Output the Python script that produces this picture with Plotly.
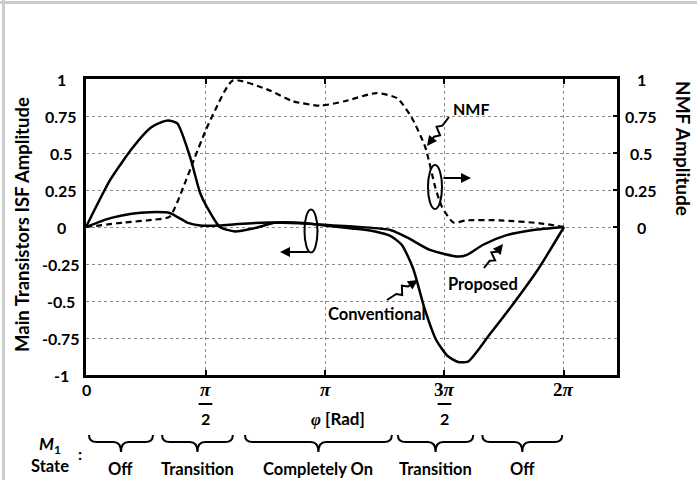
import math
import plotly.graph_objects as go

PI = math.pi

# ---------------- data ----------------
x_conv = [0, 0.32, 0.62, 0.85, 1.0, 1.08, 1.2, 1.37, 1.5, 1.59, 1.76, 1.96, 2.2, 2.5,
          2.9, 3.14, 3.5, 3.8, 4.0, 4.15, 4.3, 4.45, 4.6, 4.75, 4.88, 5.02, 5.3, 5.6, 5.95, 2 * PI]
y_conv = [0, 0.32, 0.54, 0.67, 0.71, 0.72, 0.7, 0.47, 0.23, 0.135, 0.0, -0.03, -0.01, 0.03,
          0.025, 0.01, -0.01, -0.03, -0.06, -0.12, -0.28, -0.55, -0.76, -0.87, -0.91, -0.91,
          -0.73, -0.53, -0.28, 0]

x_prop = [0, 0.32, 0.6, 0.84, 1.1, 1.33, 1.5, 1.75, 2.0, 2.4, 2.8, 3.14, 3.6, 4.0, 4.22,
          4.52, 4.89, 5.0, 5.22, 5.53, 5.88, 2 * PI]
y_prop = [0, 0.06, 0.09, 0.1, 0.095, 0.03, 0.01, 0.01, 0.02, 0.03, 0.025, 0.015, 0.0,
          -0.02, -0.07, -0.155, -0.2, -0.19, -0.12, -0.055, -0.02, 0]

x_nmf = [0, 0.5, 0.9, 1.1, 1.28, 1.43, 1.571, 1.67, 1.93, 2.38, 2.72, 3.08, 3.4, 3.82,
         4.09, 4.28, 4.46, 4.59, 4.68, 4.83, 5.0, 5.44, 5.97, 2 * PI]
y_nmf = [0, 0.03, 0.05, 0.07, 0.27, 0.47, 0.65, 0.76, 0.99, 0.93, 0.85, 0.82, 0.85, 0.905,
         0.87, 0.74, 0.54, 0.27, 0.135, 0.03, 0.045, 0.045, 0.025, 0]

x_tick_vals = [0, PI / 2, PI, 3 * PI / 2, 2 * PI]
x_tick_top = ["0", "<i>π</i>", "<i>π</i>", "3<i>π</i>", "2<i>π</i>"]
x_tick_den = ["", "2", "", "2", ""]
y_tick_vals = [-1, -0.75, -0.5, -0.25, 0, 0.25, 0.5, 0.75, 1]
y_tick_text = ["-1", "-0.75", "-0.5", "-0.25", "0", "0.25", "0.5", "0.75", "1"]
y2_tick_vals = [0, 0.25, 0.5, 0.75, 1]
y2_tick_text = ["0", "0.25", "0.5", "0.75", "1"]

states = ["Off", "Transition", "Completely On", "Transition", "Off"]
state_start = [0.04, 1.0, 2.09, 4.1, 5.21]
state_end = [0.88, 1.93, 4.02, 5.09, 6.26]

# ---------------- layout geometry ----------------
W, H = 697, 480
L, R, T, B = 86, 80, 79, 105
XMAX = 6.98
PW, PH = W - L - R, H - T - B


def px(p):
    return (p - L) / PW


def py(p):
    return (H - B - p) / PH


FONT = "Lato"
SERIF = "Liberation Serif"

fig = go.Figure()
fig.add_trace(go.Scatter(x=x_conv, y=y_conv, mode="lines", line=dict(color="black", width=2.5, shape="spline", smoothing=0.6), name="Conventional", showlegend=False))
fig.add_trace(go.Scatter(x=x_prop, y=y_prop, mode="lines", line=dict(color="black", width=2.5, shape="spline", smoothing=0.6), name="Proposed", showlegend=False))
fig.add_trace(go.Scatter(x=x_nmf, y=y_nmf, mode="lines", yaxis="y2", line=dict(color="black", width=2.2, dash="6px,4px", shape="spline", smoothing=0.6), name="NMF", showlegend=False))

grid = dict(showgrid=True, gridcolor="#8a8a8a", griddash="dot", gridwidth=1)

fig.update_layout(
    width=W, height=H,
    margin=dict(l=L, r=R, t=T, b=B),
    paper_bgcolor="white", plot_bgcolor="white",
    font=dict(family=FONT, size=16, color="black", weight="bold"),
    xaxis=dict(range=[0, XMAX], tickvals=x_tick_vals, showticklabels=False, ticks="inside",
               ticklen=5, tickwidth=2, tickcolor="black",
               showline=True, linecolor="black", linewidth=2.5, mirror="ticks", zeroline=False, **grid),
    yaxis=dict(range=[-1, 1], tickvals=y_tick_vals, showticklabels=False, ticks="",
               showline=True, linecolor="black", linewidth=2.5, mirror=True, zeroline=False, **grid),
    yaxis2=dict(range=[-1, 1], overlaying="y", side="right", tickvals=y2_tick_vals,
                showticklabels=False, ticks="inside", ticklen=4, tickwidth=2, tickcolor="black",
                showgrid=False, zeroline=False),
    showlegend=False,
)

ann = []
shapes = []


def text(t, x, y, size=16, xref="paper", yref="paper", angle=0, family=FONT):
    ann.append(dict(text=t, xref=xref, yref=yref, x=x, y=y, showarrow=False, textangle=angle,
                    xanchor="center", yanchor="middle",
                    font=dict(family=family, size=size, color="black", weight="bold")))


# outer gray frame of the image
shapes.append(dict(type="line", xref="paper", yref="paper", x0=px(0), x1=px(W), y0=py(2.5), y1=py(2.5), layer="above", line=dict(color="#cccccc", width=3)))
shapes.append(dict(type="line", xref="paper", yref="paper", x0=px(3.5), x1=px(3.5), y0=py(0), y1=py(H), layer="above", line=dict(color="#cccccc", width=3)))

# axis titles
text("Main Transistors ISF Amplitude", px(22), py(225), size=18.5, angle=-90)
text("NMF Amplitude", px(684), py(148), size=19, angle=90)

# y tick labels (centred, as in the reference)
for v, t in zip(y_tick_vals, y_tick_text):
    text(t, px(61), v, size=16, yref="y")
for v, t in zip(y2_tick_vals, y2_tick_text):
    text(t, px(641), v, size=16, yref="y2")

# x tick labels
for v, top, den in zip(x_tick_vals, x_tick_top, x_tick_den):
    if top == "0":
        text(top, v, py(389), size=16, xref="x")
    else:
        text(top, v, py(389.5), size=19, xref="x", family=SERIF)
    if den:
        text(den, v, py(418), size=16, xref="x")
        half = 0.09 if len(top) < 10 else 0.16
        shapes.append(dict(type="line", xref="x", yref="paper", x0=v - half, x1=v + half, y0=py(404), y1=py(404), line=dict(color="black", width=2)))

text("<i><span style='font-family:Liberation Serif'>φ</span></i> [Rad]", px(338), py(418), size=17)

# M1 state
text("<i>M</i><sub>1</sub>", px(50), py(445), size=17)
text("State", px(50), py(466), size=16.5)
text(":", px(80), py(453), size=16)

yt, ym, ytip = py(435), py(442), py(452)
for name, a, b in zip(states, state_start, state_end):
    m = (a + b) / 2
    r = 0.1
    path = (f"M {a},{yt} Q {a},{ym} {a + r},{ym} L {m - r},{ym} Q {m},{ym} {m},{ytip} "
            f"Q {m},{ym} {m + r},{ym} L {b - r},{ym} Q {b},{ym} {b},{yt}")
    shapes.append(dict(type="path", xref="x", yref="paper", path=path, line=dict(color="black", width=2)))
    text(name, m, py(469), size=16.5, xref="x")

# ellipses with arrows
shapes.append(dict(type="circle", xref="paper", yref="paper", x0=px(304.5), x1=px(317.5), y0=py(209.5), y1=py(252.5), line=dict(color="black", width=2)))
ann.append(dict(text="", xref="paper", yref="paper", x=px(280), y=py(252), ax=30, ay=0, showarrow=True, arrowhead=2, arrowsize=1, arrowwidth=2, arrowcolor="black"))
shapes.append(dict(type="circle", xref="paper", yref="paper", x0=px(428), x1=px(442), y0=py(165), y1=py(209), line=dict(color="black", width=2)))
ann.append(dict(text="", xref="paper", yref="paper", x=px(471), y=py(178), ax=-29, ay=0, showarrow=True, arrowhead=2, arrowsize=1, arrowwidth=2, arrowcolor="black"))


# squiggly arrows
def squiggle(x0, y0, x1, y1):
    dx, dy = x1 - x0, y1 - y0
    n = math.hypot(dx, dy)
    ux, uy = dx / n, dy / n
    vx, vy = -uy, ux
    a = 4.0
    pts = [(x0, y0)]
    for t, s in [(0.3, 0), (0.42, a), (0.55, -a), (0.68, 0)]:
        pts.append((x0 + dx * t + vx * s, y0 + dy * t + vy * s))
    pts.append((x1 - ux * 6, y1 - uy * 6))
    path = "M " + " L ".join(f"{px(p[0])},{py(p[1])}" for p in pts)
    shapes.append(dict(type="path", xref="paper", yref="paper", path=path, line=dict(color="black", width=2)))
    ann.append(dict(text="", xref="paper", yref="paper", x=px(x1), y=py(y1), ax=-ux * 9, ay=-uy * 9,
                    showarrow=True, arrowhead=2, arrowsize=1, arrowwidth=2, arrowcolor="black"))


squiggle(449, 117, 427, 146)
squiggle(484, 268, 503, 244)
squiggle(387, 300, 418, 280)

text("NMF", px(471), py(108), size=16)
text("Proposed", px(483), py(284), size=16.5)
text("Conventional", px(377), py(314), size=16.5)

fig.update_layout(annotations=ann, shapes=shapes)
fig.write_html("out.html", config={"displayModeBar": False},
               post_script="document.body.style.margin='0';document.body.style.overflow='hidden';")
